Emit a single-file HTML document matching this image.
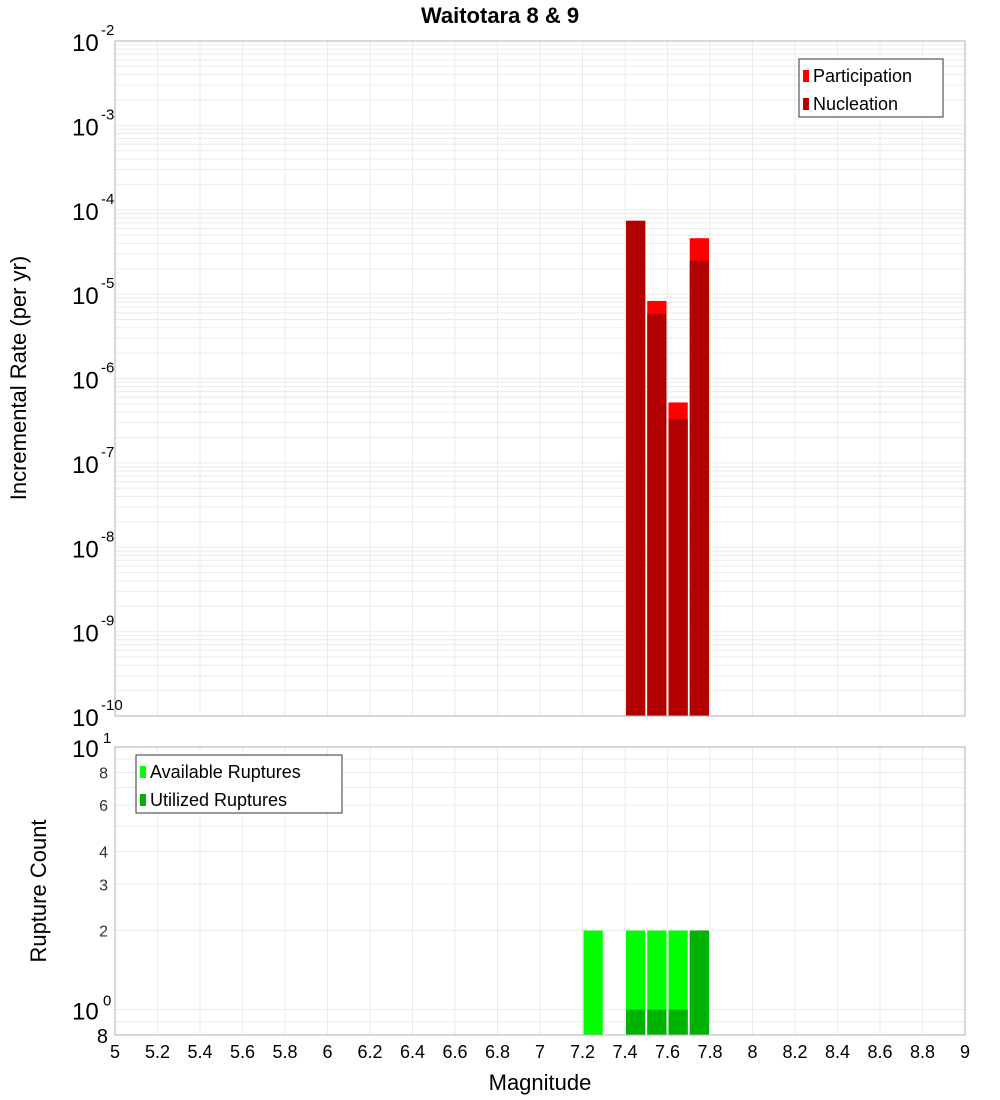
<!DOCTYPE html>
<html><head><meta charset="utf-8"><style>body{margin:0;background:#fff}svg{display:block;font-family:"Liberation Sans","DejaVu Sans",sans-serif}</style></head>
<body>
<svg id="c" width="1000" height="1100"></svg>
<script>
const magBins=[7.25,7.45,7.55,7.65,7.75];
const participation=[null,7.4e-5,8.3e-6,5.2e-7,4.6e-5];
const nucleation=[null,7.4e-5,5.8e-6,3.3e-7,2.5e-5];
const available=[2,2,2,2,2];
const utilized=[null,1,1,1,2];
const xTicks=["5","5.2","5.4","5.6","5.8","6","6.2","6.4","6.6","6.8","7","7.2","7.4","7.6","7.8","8","8.2","8.4","8.6","8.8","9"];
const topExps=[-2,-3,-4,-5,-6,-7,-8,-9,-10];
const botTicks=[2,3,4,6,8];

const NS="http://www.w3.org/2000/svg",svg=document.getElementById('c');
function el(t,a,p){const e=document.createElementNS(NS,t);for(const k in a)e.setAttribute(k,a[k]);(p||svg).appendChild(e);return e;}
const X0=115,X1=965;
const x=m=>X0+(m-5)/4*(X1-X0);
const T0=41,T1=716,yTop=v=>T0+(-2-Math.log10(v))*(T1-T0)/8;
const B0=747,B1=1035,yBot=v=>B0+(1-Math.log10(v))*(B1-B0)/(1-Math.log10(0.8));

// grids
const g=el('g',{});
for(let i=0;i<=20;i++){const xx=x(5+i*0.2);
 el('line',{x1:xx,x2:xx,y1:T0,y2:T1,stroke:'#ebebeb'},g);el('line',{x1:xx,x2:xx,y1:B0,y2:B1,stroke:'#ebebeb'},g);}
for(let e=-10;e<-2;e++)for(let k=1;k<10;k++){const yy=yTop(k*Math.pow(10,e));el('line',{x1:X0,x2:X1,y1:yy,y2:yy,stroke:'#ebebeb'},g);}
for(const v of [0.9,1,2,3,4,5,6,7,8,9]){const yy=yBot(v);el('line',{x1:X0,x2:X1,y1:yy,y2:yy,stroke:'#ebebeb'},g);}

const W=(x(5.1)-x(5))-2;
magBins.forEach((m,i)=>{
 if(participation[i]){const r=el('rect',{x:x(m-0.05)+1,y:yTop(participation[i]),width:W,height:T1-yTop(participation[i]),fill:'#ff0000'});
 }
 if(nucleation[i]){const r=el('rect',{x:x(m-0.05)+1,y:yTop(nucleation[i]),width:W,height:T1-yTop(nucleation[i]),fill:'#b30000'});
 }
 if(available[i]){const r=el('rect',{x:x(m-0.05)+1,y:yBot(available[i]),width:W,height:B1-yBot(available[i]),fill:'#00ff00'});
 }
 if(utilized[i]){const r=el('rect',{x:x(m-0.05)+1,y:yBot(utilized[i]),width:W,height:B1-yBot(utilized[i]),fill:'#00b300'});
 }
});
el('rect',{x:X0,y:T0,width:X1-X0,height:T1-T0,fill:'none',stroke:'#b0b0b0'});
el('rect',{x:X0,y:B0,width:X1-X0,height:B1-B0,fill:'none',stroke:'#b0b0b0'});

// top axis labels
topExps.forEach(e=>{const yy=yTop(Math.pow(10,e));
 const t=el('text',{x:72,y:yy+10,'font-size':24});t.textContent='10';
 
 const s=el('text',{x:101,y:yy-6,'font-size':15});s.textContent=String(e);});
// bottom axis
botTicks.forEach(v=>{const t=el('text',{x:108,y:yBot(v)+6,'font-size':16,'text-anchor':'end',fill:'#333'});t.textContent=v;
 });
let t=el('text',{x:72,y:yBot(10)+10,'font-size':24});t.textContent='10';
t=el('text',{x:103,y:yBot(10)-4,'font-size':15});t.textContent='1';
t=el('text',{x:72,y:yBot(1)+10,'font-size':24});t.textContent='10';
t=el('text',{x:103,y:yBot(1)-4,'font-size':15});t.textContent='0';
t=el('text',{x:108,y:1043,'font-size':20,'text-anchor':'end'});t.textContent='8';
xTicks.forEach(s=>{const tt=el('text',{x:x(parseFloat(s)),y:1058,'font-size':18,'text-anchor':'middle'});tt.textContent=s;
 });

t=el('text',{x:540,y:1090,'font-size':22,'text-anchor':'middle'});t.textContent='Magnitude';
t=el('text',{x:500,y:23,'font-size':22,'font-weight':'bold','text-anchor':'middle'});t.textContent='Waitotara 8 & 9';
t=el('text',{x:0,y:0,'font-size':22,'text-anchor':'middle',transform:'translate(26,378) rotate(-90)'});t.textContent='Incremental Rate (per yr)';
t=el('text',{x:0,y:0,'font-size':22,'text-anchor':'middle',transform:'translate(46,891) rotate(-90)'});t.textContent='Rupture Count';

function legend(x0,y0,w,items,name){const lg=el('g',{});
 el('rect',{x:x0,y:y0,width:w,height:58,fill:'#fff',stroke:'#333'},lg);
 items.forEach((it,i)=>{el('rect',{x:x0+4,y:y0+11+i*28,width:6,height:12,fill:it[1]},lg);
  const tx=el('text',{x:x0+14,y:y0+23+i*28,'font-size':18},lg);tx.textContent=it[0];});}
legend(799,59,144,[['Participation','#ff0000'],['Nucleation','#b30000']],'rate-legend');
legend(136,755,206,[['Available Ruptures','#00ff00'],['Utilized Ruptures','#00b300']],'count-legend');
</script>
</body></html>
